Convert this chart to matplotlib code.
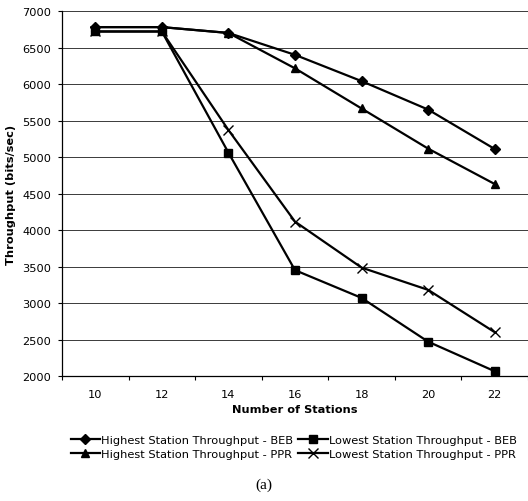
import matplotlib.pyplot as plt
from matplotlib.ticker import MultipleLocator

# Throughput per station count for each scheme
stations = [10, 12, 14, 16, 18, 20, 22]
highest_beb = [6780, 6780, 6700, 6400, 6040, 5650, 5110]
lowest_beb = [6720, 6720, 5060, 3450, 3070, 2470, 2065]
highest_ppr = [6780, 6780, 6700, 6215, 5665, 5115, 4630]
lowest_ppr = [6720, 6720, 5370, 4115, 3485, 3180, 2600]

plt.rcParams['font.family'] = 'DejaVu Sans'
fs = 8.2

fig = plt.figure(figsize=(5.28, 5.02), dpi=100)
ax = fig.add_axes([0.1174, 0.249, 0.8826, 0.727])

line_kw = dict(color='black', linewidth=1.6, clip_on=False)
h1, = ax.plot(stations, highest_beb, marker='D', markersize=5, label='Highest Station Throughput - BEB', **line_kw)
h2, = ax.plot(stations, highest_ppr, marker='^', markersize=6, label='Highest Station Throughput - PPR', **line_kw)
h3, = ax.plot(stations, lowest_beb, marker='s', markersize=6, label='Lowest Station Throughput - BEB', **line_kw)
h4, = ax.plot(stations, lowest_ppr, marker='x', markersize=6.5, markeredgewidth=1.0,
              label='Lowest Station Throughput - PPR', **line_kw)

ax.set_xlim(9, 23)
ax.set_ylim(2000, 7000)
ax.set_xticks(stations)
ax.xaxis.set_minor_locator(MultipleLocator(1))
ax.yaxis.set_major_locator(MultipleLocator(500))
ax.tick_params(axis='x', which='major', length=0, labelsize=fs, pad=9)
ax.tick_params(axis='x', which='minor', length=3, width=0.8, direction='out')
ax.tick_params(axis='y', length=3, width=0.8, labelsize=fs, pad=5)

ax.grid(axis='y', color='#3a3a3a', linewidth=0.7)
ax.set_axisbelow(True)
for side in ['top', 'right']:
    ax.spines[side].set_visible(False)
for side in ['left', 'bottom']:
    ax.spines[side].set_linewidth(0.9)

ax.set_xlabel('Number of Stations', fontsize=fs, fontweight='bold', labelpad=4)
ax.set_ylabel('Throughput (bits/sec)', fontsize=fs, fontweight='bold', labelpad=4)

fig.legend(handles=[h1, h2, h3, h4], ncol=2, loc='center', bbox_to_anchor=(0.556, 0.107),
           frameon=False, fontsize=fs, handlelength=2.6, handletextpad=0.1,
           columnspacing=0.4, labelspacing=0.35, borderpad=0)

fig.text(0.5, 0.034, '(a)', ha='center', va='center', fontsize=11, family='Liberation Serif')

fig.savefig('out.png', dpi=100)
